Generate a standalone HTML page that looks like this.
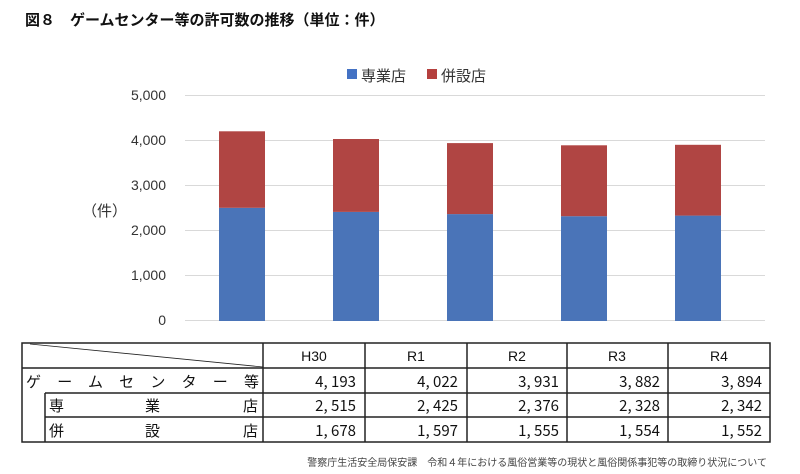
<!DOCTYPE html><html><head><meta charset="utf-8"><style>
body{margin:0;width:800px;height:474px;background:#fff;font-family:"Liberation Sans","Noto Sans CJK JP",sans-serif;position:relative;overflow:hidden}
.a{position:absolute}
</style></head><body>
<div class="a" style="left:25px;top:9px;font-size:15px;font-weight:bold;color:#111">図８　ゲームセンター等の許可数の推移（単位：件）</div>
<svg class="a" style="left:0;top:0" width="800" height="474">
<g font-size="14" fill="#333" text-anchor="end" font-family="Liberation Sans,sans-serif">
<text x="166" y="100">5,000</text><text x="166" y="145">4,000</text><text x="166" y="190">3,000</text><text x="166" y="235">2,000</text><text x="166" y="280">1,000</text><text x="166" y="325">0</text></g>
<g stroke="#d9d9d9" stroke-width="1">
<line x1="185" x2="765" y1="95.5" y2="95.5"/><line x1="185" x2="765" y1="140.5" y2="140.5"/><line x1="185" x2="765" y1="185.5" y2="185.5"/><line x1="185" x2="765" y1="230.5" y2="230.5"/><line x1="185" x2="765" y1="275.5" y2="275.5"/><line x1="185" x2="765" y1="320.5" y2="320.5"/></g>
<text x="82" y="216" font-size="15" fill="#333" font-family="Liberation Sans,Noto Sans CJK JP,sans-serif">（件）</text>
<rect x="347" y="69" width="10" height="10" fill="#4472c4"/><text x="361" y="81" font-size="15" fill="#333" font-family="Noto Sans CJK JP,sans-serif">専業店</text>
<rect x="427" y="69" width="10" height="10" fill="#b5403e"/><text x="441" y="81" font-size="15" fill="#333" font-family="Noto Sans CJK JP,sans-serif">併設店</text>
<g>
<rect x="219" y="207.8" width="46" height="113.2" fill="#4a74b8"/><rect x="219" y="131.3" width="46" height="76.5" fill="#b04543"/>
<rect x="333" y="211.9" width="46" height="109.1" fill="#4a74b8"/><rect x="333" y="139" width="46" height="72.9" fill="#b04543"/>
<rect x="447" y="214.1" width="46" height="106.9" fill="#4a74b8"/><rect x="447" y="143.1" width="46" height="71" fill="#b04543"/>
<rect x="561" y="216.2" width="46" height="104.8" fill="#4a74b8"/><rect x="561" y="145.3" width="46" height="70.9" fill="#b04543"/>
<rect x="675" y="215.6" width="46" height="105.4" fill="#4a74b8"/><rect x="675" y="144.8" width="46" height="70.8" fill="#b04543"/>
</g>
<g stroke="#222" stroke-width="1.5" fill="none">
<rect x="22" y="343" width="748" height="99"/>
<line x1="22" y1="368" x2="770" y2="368"/>
<line x1="45" y1="393" x2="770" y2="393"/>
<line x1="45" y1="417" x2="770" y2="417"/>
<line x1="45" y1="393" x2="45" y2="442"/>
<line x1="263" y1="343" x2="263" y2="442"/>
<line x1="365" y1="343" x2="365" y2="442"/>
<line x1="467" y1="343" x2="467" y2="442"/>
<line x1="567" y1="343" x2="567" y2="442"/>
<line x1="668" y1="343" x2="668" y2="442"/>
<line x1="30" y1="344" x2="263" y2="367" stroke-width="0.8"/>
</g>
<g font-size="14" fill="#111" font-family="Liberation Sans,sans-serif" text-anchor="middle">
<text x="314" y="361">H30</text><text x="416" y="361">R1</text><text x="517" y="361">R2</text><text x="617" y="361">R3</text><text x="719" y="361">R4</text></g>
<g font-size="15" fill="#111" font-family="Noto Sans CJK JP,sans-serif" text-anchor="end">
<text x="356" y="387">4, 193</text><text x="458" y="387">4, 022</text><text x="559" y="387">3, 931</text><text x="660" y="387">3, 882</text><text x="762" y="387">3, 894</text>
<text x="356" y="411">2, 515</text><text x="458" y="411">2, 425</text><text x="559" y="411">2, 376</text><text x="660" y="411">2, 328</text><text x="762" y="411">2, 342</text>
<text x="356" y="436">1, 678</text><text x="458" y="436">1, 597</text><text x="559" y="436">1, 555</text><text x="660" y="436">1, 554</text><text x="762" y="436">1, 552</text>
</g>
<g font-size="15" fill="#111" font-family="Noto Sans CJK JP,sans-serif">
<text x="26" y="387" textLength="233" lengthAdjust="spacing">ゲームセンター等</text>
<text x="49" y="411">専</text><text x="145" y="411">業</text><text x="243" y="411">店</text>
<text x="49" y="436">併</text><text x="145" y="436">設</text><text x="243" y="436">店</text>
</g>
<text x="767" y="466" font-size="10" fill="#444" text-anchor="end" font-family="Noto Sans CJK JP,sans-serif">警察庁生活安全局保安課　令和４年における風俗営業等の現状と風俗関係事犯等の取締り状況について</text>
</svg>
</body></html>
